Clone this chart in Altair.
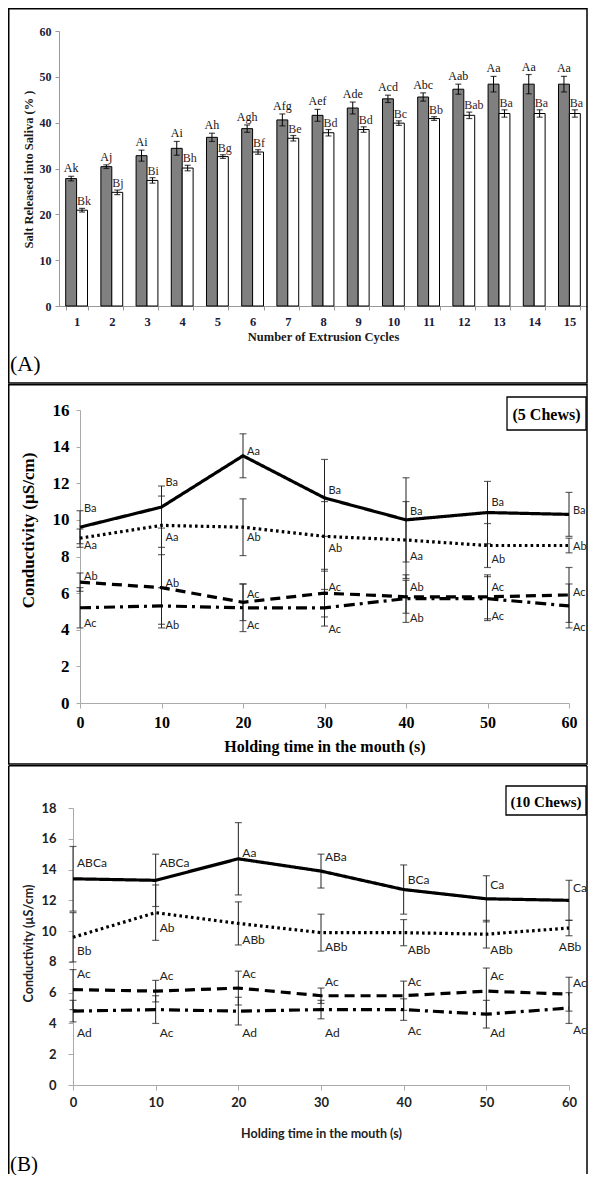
import altair as alt
import pandas as pd

# ---------------- Panel (A): salt released vs extrusion cycles ----------------
cycles = list(range(1, 16))
a_mean = [27.8, 30.4, 32.8, 34.4, 36.8, 38.7, 40.6, 41.6, 43.2, 45.2, 45.6, 47.3, 48.4, 48.4, 48.4]
a_err = [0.5, 0.4, 1.2, 1.5, 0.9, 0.8, 1.3, 1.3, 1.3, 0.8, 0.9, 1.1, 1.7, 2.1, 1.7]
a_lab = ["Ak", "Aj", "Ai", "Ai", "Ah", "Agh", "Afg", "Aef", "Ade", "Acd", "Abc", "Aab", "Aa", "Aa", "Aa"]
b_mean = [20.9, 24.8, 27.4, 30.1, 32.6, 33.6, 36.6, 37.8, 38.5, 39.9, 40.9, 41.6, 42.0, 42.0, 42.0]
b_err = [0.4, 0.5, 0.6, 0.6, 0.4, 0.5, 0.6, 0.7, 0.6, 0.5, 0.4, 0.7, 0.8, 0.8, 0.8]
b_lab = ["Bk", "Bj", "Bi", "Bh", "Bg", "Bf", "Be", "Bd", "Bd", "Bc", "Bb", "Bab", "Ba", "Ba", "Ba"]

# ---------------- Panel (B): conductivity vs holding time ----------------
times = [0, 10, 20, 30, 40, 50, 60]
series_order = ["solid", "dotted", "dashed", "dashdot"]

# 5 chews
c5_solid = [9.6, 10.7, 13.5, 11.2, 10.0, 10.4, 10.3]
c5_solid_err = [0.9, 1.15, 1.2, 2.1, 2.3, 1.7, 1.2]
c5_solid_lab = ["Ba", "Ba", "Aa", "Ba", "Ba", "Ba", "Ba"]
c5_solid_laby = [10.6, 12.0, 13.7, 11.6, 10.45, 10.9, 10.5]
c5_dot = [9.0, 9.7, 9.6, 9.1, 8.9, 8.6, 8.6]
c5_dot_err = [0.5, 1.6, 1.55, 1.9, 2.1, 1.2, 0.4]
c5_dot_lab = ["Aa", "Aa", "Ab", "Ab", "Aa", "Ab", "Ab"]
c5_dot_laby = [8.6, 9.0, 9.0, 8.4, 8.0, 7.8, 8.5]
c5_dash = [6.6, 6.3, 5.5, 6.0, 5.8, 5.8, 5.9]
c5_dash_err = [0.5, 2.2, 1.0, 1.3, 0.9, 1.2, 1.5]
c5_dash_lab = ["Ab", "Ab", "Ac", "Ac", "Ab", "Ac", "Ac"]
c5_dash_laby = [6.9, 6.5, 5.9, 6.3, 6.3, 6.3, 6.0]
c5_dd = [5.2, 5.3, 5.2, 5.2, 5.7, 5.7, 5.3]
c5_dd_err = [1.1, 1.0, 1.3, 1.0, 1.3, 1.2, 1.2]
c5_dd_lab = ["Ac", "Ab", "Ac", "Ac", "Ab", "Ac", "Ac"]
c5_dd_laby = [4.3, 4.2, 4.2, 4.0, 4.6, 4.7, 4.1]

# 10 chews
c10_solid = [13.4, 13.3, 14.7, 13.9, 12.7, 12.1, 12.0]
c10_solid_err = [2.1, 1.7, 2.35, 1.1, 1.6, 1.5, 1.3]
c10_solid_lab = ["ABCa", "ABCa", "Aa", "ABa", "BCa", "Ca", "Ca"]
c10_solid_laby = [14.4, 14.4, 15.1, 14.8, 13.3, 13.0, 12.8]
c10_dot = [9.6, 11.2, 10.5, 9.9, 9.9, 9.8, 10.2]
c10_dot_err = [1.6, 1.8, 1.4, 1.2, 0.85, 0.9, 0.5]
c10_dot_lab = ["Bb", "Ab", "ABb", "ABb", "ABb", "ABb", "ABb"]
c10_dot_laby = [8.7, 10.2, 9.4, 9.0, 8.8, 8.8, 9.0]
c10_dash = [6.2, 6.1, 6.3, 5.8, 5.8, 6.1, 5.9]
c10_dash_err = [1.3, 0.7, 1.1, 0.5, 0.95, 1.5, 1.1]
c10_dash_lab = ["Ac", "Ac", "Ac", "Ac", "Ac", "Ac", "Ac"]
c10_dash_laby = [7.2, 7.1, 7.2, 6.7, 6.7, 7.1, 6.6]
c10_dd = [4.8, 4.9, 4.8, 4.9, 4.9, 4.6, 5.0]
c10_dd_err = [0.7, 0.9, 0.9, 0.6, 0.7, 0.9, 1.0]
c10_dd_lab = ["Ad", "Ac", "Ad", "Ad", "Ac", "Ad", "Ac"]
c10_dd_laby = [3.4, 3.4, 3.4, 3.4, 3.5, 3.4, 3.6]

dummy = pd.DataFrame({"k": [0]})

SERIF = "Liberation Serif"
SANS = "Lato"
FX1, FX2 = -50.25, 528  # frame left / right, relative to the common plot origin


def frame_rect(y1, y2):
    return alt.Chart(dummy).mark_rect(fill="white", fillOpacity=0, stroke="black",
                                      strokeWidth=1.5).encode(
        x=alt.value(FX1), x2=alt.value(FX2), y=alt.value(y1), y2=alt.value(y2))


def label_box(x1, x2, y1, y2, text, font, size):
    box = alt.Chart(dummy).mark_rect(fill="white", stroke="black", strokeWidth=1.3).encode(
        x=alt.value(x1), x2=alt.value(x2), y=alt.value(y1), y2=alt.value(y2))
    txt = alt.Chart(dummy).mark_text(text=text, font=font, fontSize=size, fontWeight="bold",
                                     align="center", baseline="middle", color="black").encode(
        x=alt.value((x1 + x2) / 2), y=alt.value((y1 + y2) / 2 + 1))
    return box + txt


# ---------------- build panel A ----------------
rows = []
for i, c in enumerate(cycles):
    rows.append(dict(cycle=c, series="A", value=a_mean[i], lo=a_mean[i] - a_err[i],
                     hi=a_mean[i] + a_err[i], label=a_lab[i]))
    rows.append(dict(cycle=c, series="B", value=b_mean[i], lo=b_mean[i] - b_err[i],
                     hi=b_mean[i] + b_err[i], label=b_lab[i]))
df_a = pd.DataFrame(rows)

xa_axis = alt.Axis(title="Number of Extrusion Cycles", labelAngle=0, labelFont=SERIF,
                   labelFontWeight="bold", labelFontSize=12.5, labelColor="#1a1a3c",
                   labelPadding=5, tickBand="extent", tickSize=4, tickColor="#999",
                   domainColor="#999", titleFont=SERIF, titleFontWeight="bold",
                   titleFontSize=12.5, titleColor="#1a1a1a", titlePadding=3)
ya_axis = alt.Axis(title="Salt Released into Saliva (% )", values=[0, 10, 20, 30, 40, 50, 60],
                   grid=False, labelFont=SERIF, labelFontWeight="bold", labelFontSize=12,
                   labelColor="#1a1a3c", labelPadding=4, tickSize=4, tickColor="#999",
                   domainColor="#999", titleFont=SERIF, titleFontWeight="bold",
                   titleFontSize=12.5, titleColor="#1a1a1a", titleX=-31, titleY=138,
                   titleBaseline="middle", titleAlign="center")

xa = alt.X("cycle:O", scale=alt.Scale(paddingInner=0.38, paddingOuter=0.19), axis=xa_axis)
xoff = alt.XOffset("series:N", scale=alt.Scale(domain=["A", "B"]))
ya_scale = alt.Scale(domain=[0, 60], nice=False)


def ya(field):
    return alt.Y(field, type="quantitative", scale=ya_scale, axis=ya_axis)


base_a = alt.Chart(df_a)
bars = base_a.mark_bar(stroke="black", strokeWidth=1).encode(
    x=xa, xOffset=xoff, y=ya("value"),
    fill=alt.Fill("series:N", scale=alt.Scale(domain=["A", "B"], range=["#808080", "#ffffff"]),
                  legend=None))
a_rules = base_a.mark_rule(color="black", strokeWidth=1).encode(
    x=xa, xOffset=xoff, y=ya("lo"), y2="hi:Q")
a_cap_hi = base_a.mark_tick(orient="horizontal", size=6, thickness=1.2, color="black").encode(
    x=xa, xOffset=xoff, y=ya("hi"))
a_cap_lo = base_a.mark_tick(orient="horizontal", size=6, thickness=1.2, color="black").encode(
    x=xa, xOffset=xoff, y=ya("lo"))
a_lab_a = base_a.transform_filter(alt.datum.series == "A").mark_text(
    font=SERIF, fontSize=12, align="center", baseline="alphabetic", dy=-4, color="#111").encode(
    x=xa, xOffset=xoff, y=ya("hi"), text="label:N")
a_lab_b = base_a.transform_filter(alt.datum.series == "B").mark_text(
    font=SERIF, fontSize=12, align="left", baseline="alphabetic", dx=-5, dy=-3,
    color="#3a1c1c").encode(x=xa, xOffset=xoff, y=ya("hi"), text="label:N")

a_tag = alt.Chart(dummy).mark_text(text="(A)", font=SERIF, fontSize=22, align="left",
                                   baseline="middle", color="black").encode(
    x=alt.value(-49), y=alt.value(333))

panel_a = alt.layer(frame_rect(-22.25, 352), bars, a_rules, a_cap_hi, a_cap_lo,
                    a_lab_a, a_lab_b, a_tag).properties(width=528, height=275)


# ---------------- line panels ----------------
def make_df(vals, errs, labs, labys):
    rows = []
    for s, v, e, l, ly in zip(series_order, vals, errs, labs, labys):
        for i, t in enumerate(times):
            rows.append(dict(t=t, series=s, v=v[i], lo=v[i] - e[i], hi=v[i] + e[i],
                             lab=l[i], laby=ly[i]))
    return pd.DataFrame(rows)


df5 = make_df([c5_solid, c5_dot, c5_dash, c5_dd],
              [c5_solid_err, c5_dot_err, c5_dash_err, c5_dd_err],
              [c5_solid_lab, c5_dot_lab, c5_dash_lab, c5_dd_lab],
              [c5_solid_laby, c5_dot_laby, c5_dash_laby, c5_dd_laby])
df10 = make_df([c10_solid, c10_dot, c10_dash, c10_dd],
               [c10_solid_err, c10_dot_err, c10_dash_err, c10_dd_err],
               [c10_solid_lab, c10_dot_lab, c10_dash_lab, c10_dd_lab],
               [c10_solid_laby, c10_dot_laby, c10_dash_laby, c10_dd_laby])

dash_scale = alt.Scale(domain=series_order,
                       range=[[1, 0], [2.6, 3.2], [10, 6], [11, 5, 3, 5]])


def line_panel(df, ymax, xrange, x_axis, y_axis, lab_font, lab_size, lab_dx, special=False):
    xs = alt.Scale(domain=[0, 60], range=xrange, nice=False, zero=False)
    ys = alt.Scale(domain=[0, ymax], nice=False)
    x = alt.X("t:Q", scale=xs, axis=x_axis)

    def y(field):
        return alt.Y(field, type="quantitative", scale=ys, axis=y_axis)

    base = alt.Chart(df)
    rules = base.mark_rule(color="#222", strokeWidth=1).encode(x=x, y=y("lo"), y2="hi:Q")
    cap_hi = base.mark_tick(orient="horizontal", size=7, thickness=1.2, color="#222").encode(
        x=x, y=y("hi"))
    cap_lo = base.mark_tick(orient="horizontal", size=7, thickness=1.2, color="#222").encode(
        x=x, y=y("lo"))
    lines = base.mark_line(color="black", strokeWidth=3.2, strokeCap="butt").encode(
        x=x, y=y("v"), detail="series:N",
        strokeDash=alt.StrokeDash("series:N", scale=dash_scale, legend=None))
    edge = (alt.datum.t == 60) & (alt.datum.series == "dotted")
    lab_base = base.transform_filter(~edge) if special else base
    labels = lab_base.mark_text(font=lab_font, fontSize=lab_size, align="left",
                                baseline="middle", dx=lab_dx, color="#222").encode(
        x=x, y=y("laby"), text="lab:N")
    out = [rules, cap_hi, cap_lo, lines, labels]
    if special:
        out.append(base.transform_filter(edge).mark_text(
            font=lab_font, fontSize=lab_size, align="center", baseline="middle", dx=1,
            color="#222").encode(x=x, y=y("laby"), text="lab:N"))
    return out


# middle panel (5 chews)
xm_axis = alt.Axis(values=times, title="Holding time in the mouth (s)", grid=False,
                   labelFont=SERIF, labelFontWeight="bold", labelFontSize=16, labelColor="black",
                   labelPadding=6, tickSize=5, tickColor="#aaa", domainColor="#aaa",
                   labelFlush=False, titleFont=SERIF, titleFontWeight="bold", titleFontSize=16,
                   titleColor="black", titlePadding=8)
ym_axis = alt.Axis(values=[0, 2, 4, 6, 8, 10, 12, 14, 16], title="Conductivity (µS/cm)",
                   grid=False, offset=-21, labelFont=SERIF, labelFontWeight="bold",
                   labelFontSize=17, labelColor="black", labelPadding=7, tickSize=4,
                   tickColor="#aaa", domainColor="#aaa", titleFont=SERIF,
                   titleFontWeight="bold", titleFontSize=17, titleColor="black",
                   titleX=-52, titleY=120, titleBaseline="middle", titleAlign="center")
mid_layers = line_panel(df5, 16, [21, 510], xm_axis, ym_axis, SANS, 11, 4)
panel_m = alt.layer(frame_rect(-25.25, 354), *mid_layers,
                    label_box(448, 527, -13, 20, "(5 Chews)", SERIF, 16)).properties(
    width=510, height=293)

# bottom panel (10 chews)
xb_axis = alt.Axis(values=times, title="Holding time in the mouth (s)", grid=False,
                   labelFont=SANS, labelFontWeight="bold", labelFontSize=13, labelColor="#222",
                   labelPadding=6, tickSize=5, tickColor="#aaa", domainColor="#aaa",
                   labelFlush=False, titleFont=SANS, titleFontWeight="bold", titleFontSize=12.5,
                   titleColor="#222", titlePadding=18)
yb_axis = alt.Axis(values=[0, 2, 4, 6, 8, 10, 12, 14, 16, 18], title="Conductivity (µS/cm)",
                   grid=False, offset=-14, labelFont=SANS, labelFontWeight="bold",
                   labelFontSize=13, labelColor="#222", labelPadding=12, tickSize=5,
                   tickColor="#aaa", domainColor="#aaa", titleFont=SANS,
                   titleFontWeight="bold", titleFontSize=12.5, titleColor="#222",
                   titleX=-45, titleY=135, titleBaseline="middle", titleAlign="center")
bot_layers = line_panel(df10, 18, [14, 510], xb_axis, yb_axis, SANS, 12, 4, special=True)

frame_b = [
    alt.Chart(dummy).mark_rule(color="black", strokeWidth=1.5).encode(
        x=alt.value(FX1), x2=alt.value(FX2), y=alt.value(-42.25)),
    alt.Chart(dummy).mark_rule(color="black", strokeWidth=1.5).encode(
        x=alt.value(FX1), y=alt.value(-42.25), y2=alt.value(366)),
    alt.Chart(dummy).mark_rule(color="black", strokeWidth=1.5).encode(
        x=alt.value(FX2), y=alt.value(-42.25), y2=alt.value(366)),
]
b_tag = alt.Chart(dummy).mark_text(text="(B)", font=SERIF, fontSize=21, align="left",
                                   baseline="middle", color="black").encode(
    x=alt.value(-49), y=alt.value(357))

panel_b = alt.layer(*frame_b, *bot_layers,
                    label_box(447, 527, -22, 7, "(10 Chews)", SERIF, 15), b_tag).properties(
    width=510, height=277)

chart = alt.vconcat(panel_a, panel_m, panel_b, spacing=0).properties(
    padding=0).configure_view(stroke=None)

chart.save("out.html", embed_options={"renderer": "svg", "actions": False})
